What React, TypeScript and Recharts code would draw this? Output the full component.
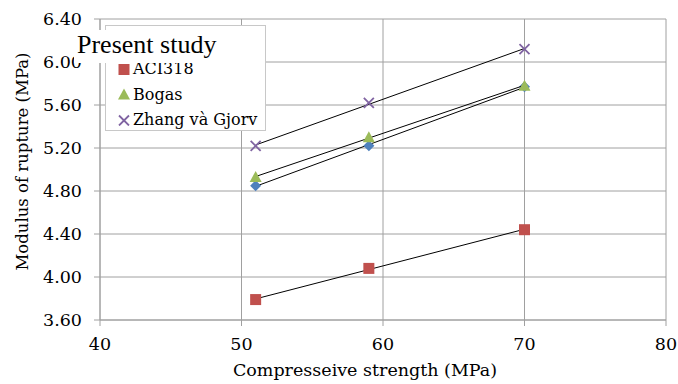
import React from 'react';
import { ComposedChart, Scatter, XAxis, YAxis, CartesianGrid } from 'recharts';

const strengths = [51, 59, 70];
const presentStudy = [4.85, 5.22, 5.77];
const aci318 = [3.79, 4.08, 4.44];
const bogas = [4.93, 5.3, 5.78];
const zhang = [5.22, 5.62, 6.12];
const xTicks = [40, 50, 60, 70, 80];
const yTicks = [3.6, 4.0, 4.4, 4.8, 5.2, 5.6, 6.0, 6.4];

const toPoints = (vals: number[]) => strengths.map((x, i) => ({ x, y: vals[i] }));

const FONT = '"DejaVu Serif", serif';

const Diamond = (p: any) => {
  const { cx, cy, fill } = p;
  return <path d={`M${cx},${cy - 5.5}L${cx + 5.5},${cy}L${cx},${cy + 5.5}L${cx - 5.5},${cy}Z`} fill={fill} />;
};
const Square = (p: any) => {
  const { cx, cy, fill } = p;
  return <rect x={cx - 5.5} y={cy - 5.5} width={11} height={11} fill={fill} />;
};
const Triangle = (p: any) => {
  const { cx, cy, fill } = p;
  return <path d={`M${cx},${cy - 6}L${cx + 6},${cy + 5}L${cx - 6},${cy + 5}Z`} fill={fill} />;
};
const Cross = (p: any) => {
  const { cx, cy, fill } = p;
  return (
    <path d={`M${cx - 5},${cy - 5}L${cx + 5},${cy + 5}M${cx + 5},${cy - 5}L${cx - 5},${cy + 5}`} stroke={fill} strokeWidth={1.8} fill="none" />
  );
};

const series = [
  { name: 'Present study', data: presentStudy, color: '#4F81BD', shape: Diamond },
  { name: 'ACI318', data: aci318, color: '#C0504D', shape: Square },
  { name: 'Bogas', data: bogas, color: '#9BBB59', shape: Triangle },
  { name: 'Zhang và Gjorv', data: zhang, color: '#8064A2', shape: Cross },
];

const LegendIcon = ({ shape: Shape, color }: any) => (
  <svg width={12} height={12} style={{ display: 'block' }}>
    <Shape cx={6} cy={6.5} fill={color} />
  </svg>
);

export default function App() {
  return (
    <div style={{ position: 'absolute', left: 0, top: 0, width: 678, height: 384, background: '#fff' }}>
      <ComposedChart width={678} height={384} margin={{ top: 19, right: 12, bottom: 0, left: 0 }}>
        <CartesianGrid stroke="#a0a0a0" strokeWidth={1} />
        <XAxis
          type="number"
          dataKey="x"
          domain={[40, 80]}
          ticks={xTicks}
          height={64}
          tickSize={6}
          tickMargin={12}
          stroke="#a0a0a0"
          tick={{ fill: '#000', fontSize: 17.5, fontFamily: FONT }}
          label={{ value: 'Compresseive strength (MPa)', position: 'insideBottom', offset: 8, dx: -18, fill: '#000', fontSize: 17.5, fontFamily: FONT }}
        />
        <YAxis
          type="number"
          dataKey="y"
          domain={[3.6, 6.4]}
          ticks={yTicks}
          width={100}
          tickSize={6}
          tickMargin={12}
          stroke="#a0a0a0"
          tickFormatter={(v: number) => v.toFixed(2)}
          tick={{ fill: '#000', fontSize: 17.5, fontFamily: FONT }}
          label={{
            content: (props: any) => {
              const vb = props.viewBox;
              const cx = 22;
              const cy = vb.y + vb.height / 2 - 8;
              return (
                <text x={cx} y={cy} transform={`rotate(-90 ${cx} ${cy})`} textAnchor="middle" dominantBaseline="central" fontSize={16.5} fontFamily={FONT} fill="#000">
                  Modulus of rupture  (MPa)
                </text>
              );
            },
          }}
        />
        {series.map((s) => (
          <Scatter
            key={s.name}
            name={s.name}
            data={toPoints(s.data)}
            fill={s.color}
            shape={s.shape}
            line={{ stroke: '#000', strokeWidth: 1 }}
            lineType="fitting"
            isAnimationActive={false}
          />
        ))}
      </ComposedChart>
      <div
        style={{
          position: 'absolute',
          left: 105,
          top: 25,
          width: 161,
          height: 106,
          border: '1px solid #c8c8c8',
          background: '#fff',
          boxSizing: 'border-box',
          fontFamily: FONT,
          fontSize: 16,
        }}
      >
        {series.map((s, i) =>
          i === 0 ? null : (
            <div key={s.name} style={{ position: 'absolute', left: 12, top: 7 + i * 25.5, height: 20, display: 'flex', alignItems: 'center', whiteSpace: 'nowrap' }}>
              <LegendIcon shape={s.shape} color={s.color} />
              <span style={{ marginLeft: 3 }}>{s.name}</span>
            </div>
          )
        )}
      </div>
      <div
        style={{
          position: 'absolute',
          left: 74,
          top: 30,
          height: 33,
          paddingRight: 4,
          paddingLeft: 3,
          background: '#fff',
          fontFamily: '"Liberation Serif", serif',
          fontSize: 26,
          lineHeight: '30px',
          whiteSpace: 'nowrap',
        }}
      >
        {series[0].name}
      </div>
    </div>
  );
}
